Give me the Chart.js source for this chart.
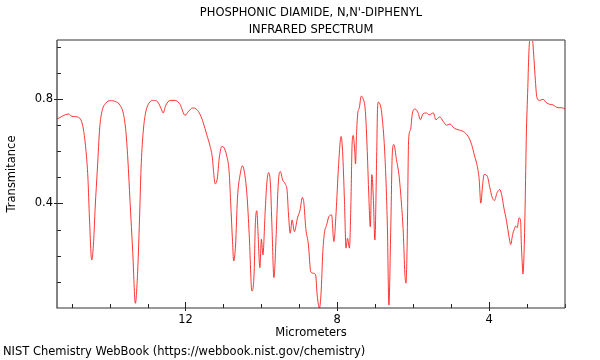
<!DOCTYPE html>
<html>
<head>
<meta charset="utf-8">
<script src="https://cdn.jsdelivr.net/npm/chart.js@4"></script>
<style>
html,body{margin:0;padding:0;background:#fff;}
#wrap{width:600px;height:360px;position:relative;}
</style>
</head>
<body>
<div id="wrap"><canvas id="c" width="600" height="360"></canvas></div>
<script>
const chartTitle = ["PHOSPHONIC DIAMIDE, N,N'-DIPHENYL", "INFRARED SPECTRUM"];
const xTitle = "Micrometers";
const yTitle = "Transmitance";
const footer = "NIST Chemistry WebBook (https://webbook.nist.gov/chemistry)";
const xLabels = [4, 8, 12];
const yLabels = [0.4, 0.8];

const wavelength = [
15.38,15.08,14.99,14.86,14.74,14.68,14.62,14.57,14.53,14.47,14.42,14.38,14.32,14.26,14.20,14.11,
13.98,13.85,13.72,13.63,13.57,13.52,13.46,13.39,13.32,13.26,13.21,13.17,13.12,13.06,12.96,12.84,
12.73,12.64,12.59,12.52,12.40,12.27,12.17,12.14,12.01,11.92,11.81,11.70,11.61,11.53,11.44,11.35,
11.29,11.26,11.22,11.16,11.11,11.04,10.98,10.91,10.85,10.81,10.76,10.73,10.68,10.63,10.56,10.50,
10.45,10.38,10.32,10.25,10.19,10.16,10.12,10.09,10.04,10.00,9.96,9.90,9.86,9.81,9.76,9.72,
9.67,9.61,9.57,9.54,9.50,9.44,9.37,9.32,9.29,9.24,9.19,9.13,9.05,8.98,8.92,8.88,
8.83,8.76,8.70,8.63,8.57,8.53,8.47,8.43,8.38,8.34,8.28,8.22,8.15,8.09,8.03,7.97,
7.90,7.86,7.81,7.77,7.73,7.68,7.64,7.61,7.58,7.54,7.52,7.49,7.46,7.42,7.37,7.32,
7.26,7.21,7.17,7.13,7.09,7.05,7.01,6.96,6.94,6.92,6.89,6.83,6.74,6.68,6.64,6.59,
6.55,6.51,6.44,6.37,6.31,6.26,6.22,6.19,6.16,6.12,6.07,6.02,5.95,5.87,5.81,5.74,
5.65,5.58,5.47,5.40,5.30,5.21,5.12,5.03,4.93,4.82,4.68,4.55,4.46,4.38,4.31,4.26,
4.22,4.17,4.13,4.05,3.98,3.92,3.86,3.79,3.72,3.67,3.61,3.54,3.47,3.43,3.38,3.34,
3.30,3.26,3.21,3.17,3.15,3.12,3.11,3.08,3.05,3.02,2.98,2.95,2.91,2.87,2.82,2.78,
2.74,2.67,2.58,2.49,2.40,2.32,2.18,2.09,2.00
];
const transmittance = [
0.723,0.742,0.733,0.731,0.714,0.675,0.599,0.497,0.344,0.184,0.254,0.382,0.535,0.689,0.752,0.782,
0.793,0.790,0.775,0.739,0.675,0.573,0.407,0.216,0.018,0.139,0.344,0.535,0.663,0.739,0.784,0.794,
0.788,0.762,0.746,0.775,0.794,0.794,0.784,0.778,0.737,0.752,0.765,0.759,0.739,0.708,0.663,0.618,
0.573,0.522,0.475,0.497,0.573,0.618,0.612,0.580,0.522,0.407,0.254,0.180,0.241,0.420,0.510,0.544,
0.522,0.433,0.280,0.065,0.139,0.318,0.372,0.292,0.154,0.263,0.203,0.369,0.471,0.518,0.471,0.305,
0.116,0.280,0.433,0.503,0.522,0.490,0.474,0.446,0.369,0.286,0.337,0.292,0.344,0.375,0.423,0.401,
0.305,0.241,0.139,0.133,0.126,0.050,0.000,0.050,0.216,0.286,0.318,0.350,0.356,0.254,0.369,0.535,
0.656,0.599,0.407,0.229,0.267,0.229,0.407,0.625,0.660,0.599,0.551,0.675,0.746,0.765,0.810,0.801,
0.752,0.599,0.433,0.311,0.510,0.420,0.260,0.599,0.760,0.787,0.784,0.746,0.567,0.311,0.011,0.311,
0.593,0.625,0.567,0.503,0.401,0.286,0.133,0.095,0.235,0.644,0.682,0.746,0.761,0.746,0.720,0.743,
0.746,0.739,0.746,0.720,0.731,0.714,0.699,0.704,0.689,0.682,0.675,0.656,0.625,0.580,0.541,0.490,
0.401,0.471,0.511,0.505,0.460,0.424,0.411,0.441,0.453,0.434,0.383,0.332,0.268,0.243,0.281,0.300,
0.313,0.307,0.345,0.332,0.243,0.153,0.130,0.204,0.396,0.651,0.843,0.983,1.040,1.040,0.958,0.869,
0.805,0.794,0.798,0.785,0.779,0.777,0.766,0.766,0.762
];

const points = wavelength.map((w, i) => ({x: w, y: transmittance[i]}));
const FONT = "'DejaVu Sans', sans-serif";
const FS = 11.5;

const frameTicks = {
  id: 'frameTicks',
  afterDraw(chart) {
    const ctx = chart.ctx, a = chart.chartArea;
    const xs = chart.scales.x, ys = chart.scales.y;
    ctx.save();
    // texts
    ctx.fillStyle = '#000';
    ctx.font = FS + "px " + FONT;
    ctx.textAlign = 'center';
    ctx.textBaseline = 'middle';
    const cx = (a.left + a.right) / 2;
    ctx.fillText(chartTitle[0], cx, 13.5);
    ctx.fillText(chartTitle[1], cx, 30);
    ctx.textAlign = 'left';
    ctx.fillText(footer, 3, 352);
    ctx.save();
    ctx.translate(12, (a.top + a.bottom) / 2);
    ctx.rotate(-Math.PI / 2);
    ctx.textAlign = 'center';
    ctx.fillText(yTitle, 0, 0);
    ctx.restore();
    // ticks
    ctx.strokeStyle = '#222';
    ctx.lineWidth = 1;
    ctx.beginPath();
    for (let v = Math.ceil(xs.min); v <= Math.floor(xs.max); v++) {
      const px = Math.round(xs.getPixelForValue(v)) + 0.5;
      if (xLabels.includes(v)) { ctx.moveTo(px, a.bottom + 3); ctx.lineTo(px, a.bottom - 6); }
      else { ctx.moveTo(px, a.bottom); ctx.lineTo(px, a.bottom - 4); }
    }
    for (let k = 1; k <= 10; k++) {
      const v = k / 10;
      if (v > ys.max) break;
      const py = Math.round(ys.getPixelForValue(v)) + 0.5;
      if (yLabels.some(l => Math.abs(l - v) < 1e-6)) { ctx.moveTo(a.left - 3, py); ctx.lineTo(a.left + 6, py); }
      else { ctx.moveTo(a.left, py); ctx.lineTo(a.left + 4, py); }
    }
    ctx.stroke();
    // frame
    ctx.strokeStyle = '#999';
    ctx.lineWidth = 2;
    ctx.beginPath(); ctx.moveTo(a.left, a.top); ctx.lineTo(a.right, a.top); ctx.stroke();
    ctx.strokeStyle = '#555';
    ctx.lineWidth = 1.2;
    ctx.beginPath(); ctx.moveTo(a.right, a.top); ctx.lineTo(a.right, a.bottom); ctx.stroke();
    ctx.strokeStyle = '#333';
    ctx.lineWidth = 1.2;
    ctx.beginPath(); ctx.moveTo(a.left, a.top); ctx.lineTo(a.left, a.bottom); ctx.lineTo(a.right, a.bottom); ctx.stroke();
    ctx.restore();
  }
};

new Chart(document.getElementById('c'), {
  type: 'line',
  data: {
    datasets: [{
      data: points,
      borderColor: 'rgba(255,30,30,0.9)',
      borderWidth: 1,
      pointRadius: 0,
      cubicInterpolationMode: 'monotone',
      fill: false
    }]
  },
  options: {
    responsive: false,
    animation: false,
    devicePixelRatio: 1,
    layout: {padding: {left: 0, right: 35, top: 40, bottom: 16}},
    plugins: {
      legend: {display: false},
      tooltip: {enabled: false},
      title: {display: false},
      subtitle: {display: false}
    },
    scales: {
      x: {
        type: 'linear', reverse: true, min: 2, max: 15.385,
        grid: {display: false, drawTicks: false},
        border: {display: false},
        ticks: {
          stepSize: 1, autoSkip: false, maxRotation: 0, padding: 5, color: '#000',
          font: {family: FONT, size: FS},
          callback: v => xLabels.includes(v) ? String(v) : ''
        },
        title: {display: true, text: xTitle, color: '#000', font: {family: FONT, size: FS}, padding: {top: 0, bottom: 4}},
        afterFit: s => { s.height = 36; }
      },
      y: {
        type: 'linear', min: 0, max: 1.025,
        grid: {display: false, drawTicks: false},
        border: {display: false},
        ticks: {
          stepSize: 0.1, autoSkip: false, padding: 4, color: '#000',
          font: {family: FONT, size: FS},
          callback: v => yLabels.some(l => Math.abs(l - v) < 1e-6) ? v.toFixed(1) : ''
        },
        title: {display: false},
        afterFit: s => { s.width = 57; }
      }
    }
  },
  plugins: [frameTicks]
});
</script>
</body>
</html>
